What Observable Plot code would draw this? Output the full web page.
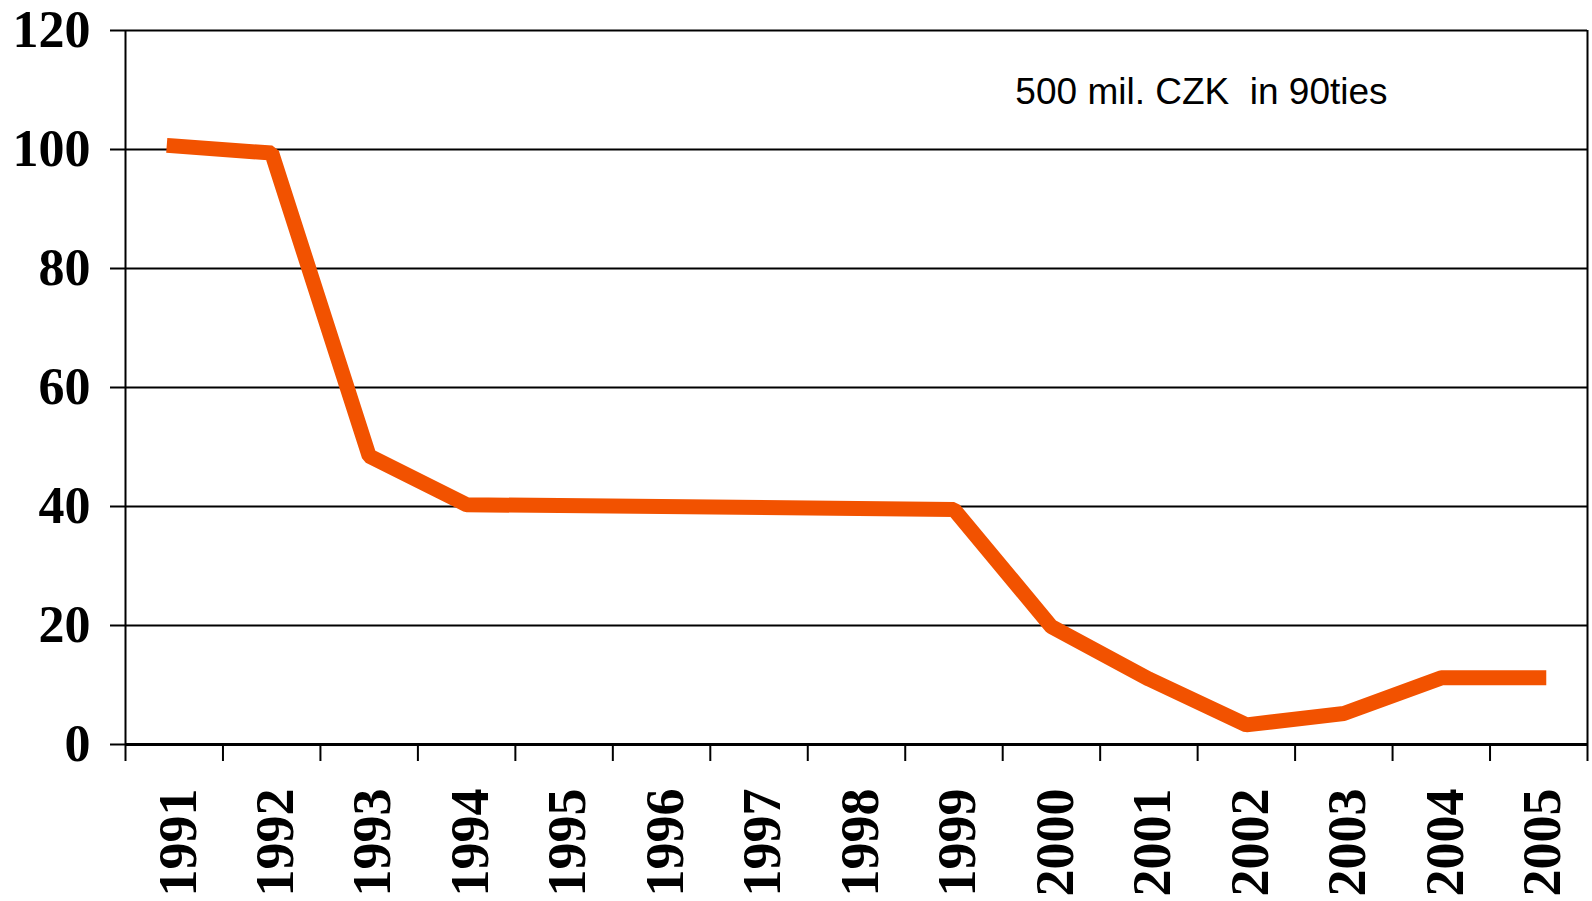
<!DOCTYPE html>
<html>
<head>
<meta charset="utf-8">
<script src="https://cdn.jsdelivr.net/npm/d3@7"></script>
<script src="https://cdn.jsdelivr.net/npm/@observablehq/plot@0.6"></script>
<style>
  html, body { margin: 0; padding: 0; background: #fff; }
  #chart svg { display: block; background: #fff; }
</style>
</head>
<body>
<div id="chart"></div>
<script>
// Category axis (all years shown on the axis)
const years = [1991, 1992, 1993, 1994, 1995, 1996, 1997, 1998, 1999, 2000, 2001, 2002, 2003, 2004, 2005];
// Years that carry a value (1995–1998 have no data point; the line is drawn straight across)
const dataYears = [1991, 1992, 1993, 1994, 1999, 2000, 2001, 2002, 2003, 2004, 2005];
const values    = [100.6, 99.4, 48.5, 40.3, 39.5, 19.8, 11.0, 3.3, 5.2, 11.2, 11.2];
// Y tick labels
const yTicks = [0, 20, 40, 60, 80, 100, 120];
// Annotation
const noteText = "500 mil. CZK  in 90ties";
const noteYear = 1999.63;
const noteValue = 107.6;

const data = dataYears.map((year, i) => ({year, value: values[i]}));
const boundaries = years.map(y => y - 0.5).concat([years[years.length - 1] + 0.5]);
const xDomain = [boundaries[0], boundaries[boundaries.length - 1]];

const chart = Plot.plot({
  width: 1592,
  height: 901,
  marginLeft: 125,
  marginRight: 5,
  marginTop: 30,
  marginBottom: 157,
  style: {background: "#fff", color: "black"},
  x: {type: "linear", domain: xDomain, label: null},
  y: {domain: [0, 120], label: null},
  marks: [
    Plot.gridY(yTicks, {stroke: "black", strokeOpacity: 1, strokeWidth: 2}),
    Plot.axisY({
      ticks: yTicks, tickSize: 15, tickPadding: 20, strokeWidth: 2,
      fontSize: 52, fontWeight: "bold", fontFamily: "Liberation Serif, Times New Roman, serif",
      label: null
    }),
    Plot.axisX({
      ticks: boundaries, tickSize: 17, strokeWidth: 2, tickFormat: () => "", label: null
    }),
    Plot.axisX({
      ticks: years, tickSize: 0, tickPadding: 44, tickRotate: -90,
      tickFormat: d => String(d), dx: 4,
      fontSize: 54, fontWeight: "bold", fontFamily: "Liberation Serif, Times New Roman, serif",
      label: null
    }),
    Plot.ruleX([xDomain[0]], {stroke: "black", strokeWidth: 2}),
    Plot.ruleX([xDomain[1]], {stroke: "black", strokeWidth: 2}),
    Plot.ruleY([0], {stroke: "black", strokeWidth: 3}),
    Plot.line(data, {
      x: "year", y: "value", stroke: "#f25200", strokeWidth: 15,
      strokeLinecap: "square", strokeLinejoin: "miter"
    }),
    Plot.text([{year: noteYear, value: noteValue, label: noteText}], {
      x: "year", y: "value", text: "label", textAnchor: "start", lineAnchor: "bottom",
      fontSize: 37, fontFamily: "Liberation Sans, Arial, sans-serif", fill: "black"
    })
  ]
});
document.getElementById("chart").appendChild(chart);
</script>
</body>
</html>
